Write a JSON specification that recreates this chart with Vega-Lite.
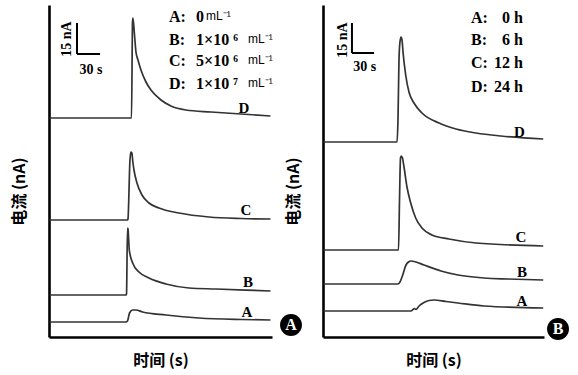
{
  "$schema": "https://vega.github.io/schema/vega-lite/v6.json",
  "padding": {"left": 11, "top": 5, "right": 0, "bottom": 3},
  "bounds": "flush",
  "spacing": 51,
  "background": "white",
  "config": {
    "view": {"stroke": null},
    "axis": {"domainColor": "#000", "domainWidth": 2.6, "ticks": false, "labels": false, "grid": false, "titleFont": "Noto Sans CJK SC", "titleFontSize": 16, "titleFontWeight": "bold", "titleColor": "#000"},
    "axisY": {"titlePadding": 22, "titleY": 186},
    "axisX": {"titlePadding": 15}
  },
  "datasets": {
    "curvesL": [
      {"c": "D", "s": 0.7, "nA": 109.5}, {"c": "D", "s": 107.3, "nA": 109.5}, {"c": "D", "s": 108.6, "nA": 157.5}, {"c": "D", "s": 109.2, "nA": 159.5}, {"c": "D", "s": 111.2, "nA": 151}, {"c": "D", "s": 113.1, "nA": 142.5}, {"c": "D", "s": 115.7, "nA": 138.5}, {"c": "D", "s": 119.6, "nA": 133.5}, {"c": "D", "s": 126.1, "nA": 127.5}, {"c": "D", "s": 132.6, "nA": 123.5}, {"c": "D", "s": 145.6, "nA": 118.5}, {"c": "D", "s": 158.6, "nA": 115.5}, {"c": "D", "s": 178.1, "nA": 113.5}, {"c": "D", "s": 210.7, "nA": 112.5}, {"c": "D", "s": 249.7, "nA": 111.5}, {"c": "D", "s": 288.0, "nA": 110.5},
      {"c": "C", "s": 0.7, "nA": 58.5}, {"c": "C", "s": 102.1, "nA": 58.5}, {"c": "C", "s": 102.7, "nA": 59}, {"c": "C", "s": 105.3, "nA": 88.5}, {"c": "C", "s": 106.4, "nA": 92.5}, {"c": "C", "s": 107.7, "nA": 92}, {"c": "C", "s": 109.2, "nA": 87}, {"c": "C", "s": 110.5, "nA": 83.5}, {"c": "C", "s": 114.4, "nA": 77}, {"c": "C", "s": 120.9, "nA": 71}, {"c": "C", "s": 130, "nA": 67}, {"c": "C", "s": 143, "nA": 64.5}, {"c": "C", "s": 169, "nA": 62}, {"c": "C", "s": 208, "nA": 60}, {"c": "C", "s": 249.7, "nA": 59.25}, {"c": "C", "s": 288.0, "nA": 59},
      {"c": "B", "s": 0.7, "nA": 21}, {"c": "B", "s": 100.1, "nA": 21}, {"c": "B", "s": 100.8, "nA": 21.5}, {"c": "B", "s": 102.1, "nA": 54.5}, {"c": "B", "s": 102.7, "nA": 54}, {"c": "B", "s": 104.4, "nA": 43.5}, {"c": "B", "s": 108.8, "nA": 37}, {"c": "B", "s": 117, "nA": 32.5}, {"c": "B", "s": 130, "nA": 29.5}, {"c": "B", "s": 152.1, "nA": 26.5}, {"c": "B", "s": 182.1, "nA": 24.5}, {"c": "B", "s": 217.2, "nA": 24}, {"c": "B", "s": 288.0, "nA": 23},
      {"c": "A", "s": 0.7, "nA": 7.5}, {"c": "A", "s": 100.1, "nA": 7.5}, {"c": "A", "s": 102.1, "nA": 8}, {"c": "A", "s": 104.7, "nA": 12}, {"c": "A", "s": 108.8, "nA": 13.5}, {"c": "A", "s": 113.1, "nA": 13.5}, {"c": "A", "s": 121.8, "nA": 12.5}, {"c": "A", "s": 152.1, "nA": 11}, {"c": "A", "s": 195.1, "nA": 9.5}, {"c": "A", "s": 249.7, "nA": 8.75}, {"c": "A", "s": 288.0, "nA": 8.5}
    ],
    "curvesR": [
      {"c": "D", "s": 0.7, "nA": 97.5}, {"c": "D", "s": 97.1, "nA": 97.5}, {"c": "D", "s": 98.4, "nA": 108.5}, {"c": "D", "s": 99.7, "nA": 138.5}, {"c": "D", "s": 101.0, "nA": 147.5}, {"c": "D", "s": 102.4, "nA": 150}, {"c": "D", "s": 103.7, "nA": 148.5}, {"c": "D", "s": 105.0, "nA": 142.5}, {"c": "D", "s": 108.5, "nA": 131}, {"c": "D", "s": 112.8, "nA": 122.5}, {"c": "D", "s": 119.4, "nA": 117}, {"c": "D", "s": 129.9, "nA": 112}, {"c": "D", "s": 152.2, "nA": 107}, {"c": "D", "s": 174.5, "nA": 104}, {"c": "D", "s": 200.8, "nA": 102}, {"c": "D", "s": 233.6, "nA": 100.5}, {"c": "D", "s": 289, "nA": 99},
      {"c": "C", "s": 0.7, "nA": 43.5}, {"c": "C", "s": 99.1, "nA": 43.5}, {"c": "C", "s": 100.4, "nA": 68.5}, {"c": "C", "s": 101.7, "nA": 89.5}, {"c": "C", "s": 102.7, "nA": 90.5}, {"c": "C", "s": 104.3, "nA": 89.5}, {"c": "C", "s": 106.3, "nA": 85}, {"c": "C", "s": 110.2, "nA": 75}, {"c": "C", "s": 115.1, "nA": 67}, {"c": "C", "s": 121.6, "nA": 59.5}, {"c": "C", "s": 129.9, "nA": 54.5}, {"c": "C", "s": 143.0, "nA": 51}, {"c": "C", "s": 165.3, "nA": 49}, {"c": "C", "s": 200.8, "nA": 47}, {"c": "C", "s": 289, "nA": 45.5},
      {"c": "B", "s": 0.7, "nA": 26.5}, {"c": "B", "s": 98.4, "nA": 26.5}, {"c": "B", "s": 101.0, "nA": 27.5}, {"c": "B", "s": 104.6, "nA": 31}, {"c": "B", "s": 108.9, "nA": 36}, {"c": "B", "s": 112.2, "nA": 37.5}, {"c": "B", "s": 115.5, "nA": 38}, {"c": "B", "s": 122.0, "nA": 37.5}, {"c": "B", "s": 132.5, "nA": 36}, {"c": "B", "s": 154.8, "nA": 33}, {"c": "B", "s": 177.1, "nA": 31}, {"c": "B", "s": 211.3, "nA": 29.5}, {"c": "B", "s": 242.8, "nA": 29}, {"c": "B", "s": 289, "nA": 28.5},
      {"c": "A", "s": 0.7, "nA": 13}, {"c": "A", "s": 115.5, "nA": 13}, {"c": "A", "s": 118.1, "nA": 13.75}, {"c": "A", "s": 120.1, "nA": 14.25}, {"c": "A", "s": 122.0, "nA": 13.75}, {"c": "A", "s": 126.0, "nA": 15.5}, {"c": "A", "s": 132.5, "nA": 17.25}, {"c": "A", "s": 139.1, "nA": 18.25}, {"c": "A", "s": 145.7, "nA": 18.5}, {"c": "A", "s": 161.4, "nA": 17.75}, {"c": "A", "s": 177.1, "nA": 17}, {"c": "A", "s": 211.3, "nA": 15.5}, {"c": "A", "s": 289, "nA": 14.5}
    ],
    "tagsL": [
      {"c": "D", "s": 253.6, "nA": 114.75}, {"c": "C", "s": 256.2, "nA": 63.5}, {"c": "B", "s": 258.8, "nA": 27.5}, {"c": "A", "s": 257.5, "nA": 12.5}
    ],
    "tagsR": [
      {"c": "D", "s": 257.6, "nA": 102.6}, {"c": "C", "s": 259.8, "nA": 49.8}, {"c": "B", "s": 261.1, "nA": 32.5}, {"c": "A", "s": 261.1, "nA": 18}
    ],
    "legL": [
      {"t": "A:", "s": 156, "nA": 160.2}, {"t": "0", "s": 191.2, "nA": 160.2},
      {"t": "B:", "s": 156, "nA": 148.5}, {"t": "1×10 ⁶", "s": 191.2, "nA": 148.5},
      {"t": "C:", "s": 156, "nA": 138}, {"t": "5×10 ⁶", "s": 191.2, "nA": 138},
      {"t": "D:", "s": 156, "nA": 126.5}, {"t": "1×10 ⁷", "s": 191.2, "nA": 126.5}
    ],
    "unitL": [
      {"t": "mL⁻¹", "s": 204.2, "nA": 160.6}, {"t": "mL⁻¹", "s": 258.8, "nA": 148.9}, {"t": "mL⁻¹", "s": 258.8, "nA": 138.4}, {"t": "mL⁻¹", "s": 258.8, "nA": 126.9}
    ],
    "legR": [
      {"t": "A:", "s": 194.2, "nA": 159.3}, {"t": "B:", "s": 194.2, "nA": 148.5}, {"t": "C:", "s": 194.2, "nA": 136.8}, {"t": "D:", "s": 194.2, "nA": 124.8}
    ],
    "valR": [
      {"t": "0 h", "s": 262.4, "nA": 159.3}, {"t": "6 h", "s": 262.4, "nA": 148.5}, {"t": "12 h", "s": 262.4, "nA": 136.8}, {"t": "24 h", "s": 262.4, "nA": 124.8}
    ],
    "barL": [
      {"s": 36.4, "nA": 141.5, "s2": 36.4, "nA2": 157}, {"s": 36.4, "nA": 141.5, "s2": 66.4, "nA2": 141.5}
    ],
    "barR": [
      {"s": 38, "nA": 142, "s2": 38, "nA2": 157}, {"s": 38, "nA": 142, "s2": 67, "nA2": 142}
    ],
    "vtxtL": [{"t": "15 nA", "s": 23.4, "nA": 149}],
    "htxtL": [{"t": "30 s", "s": 54.6, "nA": 133.5}],
    "vtxtR": [{"t": "15 nA", "s": 25.6, "nA": 148.5}],
    "htxtR": [{"t": "30 s", "s": 54.7, "nA": 135}],
    "badgeL": [{"t": "A", "s": 314.7, "nA": 6}],
    "badgeR": [{"t": "B", "s": 308.4, "nA": 4}]
  },
  "hconcat": [
    {
      "width": 223,
      "height": 332,
      "encoding": {
        "x": {"field": "s", "type": "quantitative", "scale": {"domain": [0, 290], "nice": false, "zero": false}, "axis": {"title": "时间 (s)"}},
        "y": {"field": "nA", "type": "quantitative", "scale": {"domain": [0, 166], "nice": false}, "axis": {"title": "电流 (nA)"}}
      },
      "layer": [
        {"data": {"name": "curvesL"}, "mark": {"type": "line", "color": "#333333", "strokeWidth": 1.7, "interpolate": "monotone"}, "encoding": {"detail": {"field": "c"}}},
        {"data": {"name": "tagsL"}, "mark": {"type": "text", "font": "Liberation Serif", "fontWeight": "bold", "fontSize": 15, "align": "center", "baseline": "middle", "color": "#000"}, "encoding": {"text": {"field": "c"}}},
        {"data": {"name": "legL"}, "mark": {"type": "text", "font": "Liberation Serif", "fontWeight": "bold", "fontSize": 16, "align": "left", "baseline": "middle", "color": "#000"}, "encoding": {"text": {"field": "t"}}},
        {"data": {"name": "unitL"}, "mark": {"type": "text", "font": "Liberation Sans", "fontSize": 12, "align": "left", "baseline": "middle", "color": "#000"}, "encoding": {"text": {"field": "t"}}},
        {"data": {"name": "barL"}, "mark": {"type": "rule", "strokeWidth": 2, "color": "#000"}, "encoding": {"x2": {"field": "s2"}, "y2": {"field": "nA2"}}},
        {"data": {"name": "vtxtL"}, "mark": {"type": "text", "font": "Liberation Serif", "fontWeight": "bold", "fontSize": 14, "angle": 270, "align": "center", "baseline": "middle", "color": "#000"}, "encoding": {"text": {"field": "t"}}},
        {"data": {"name": "htxtL"}, "mark": {"type": "text", "font": "Liberation Serif", "fontWeight": "bold", "fontSize": 14, "align": "center", "baseline": "middle", "color": "#000"}, "encoding": {"text": {"field": "t"}}},
        {"data": {"name": "badgeL"}, "mark": {"type": "point", "shape": "circle", "filled": true, "size": 480, "color": "#000", "opacity": 1}},
        {"data": {"name": "badgeL"}, "mark": {"type": "text", "font": "Liberation Serif", "fontWeight": "bold", "fontSize": 16, "align": "center", "baseline": "middle", "color": "#fff"}, "encoding": {"text": {"field": "t"}}}
      ]
    },
    {
      "width": 221,
      "height": 332,
      "encoding": {
        "x": {"field": "s", "type": "quantitative", "scale": {"domain": [0, 290], "nice": false, "zero": false}, "axis": {"title": "时间 (s)"}},
        "y": {"field": "nA", "type": "quantitative", "scale": {"domain": [0, 166], "nice": false}, "axis": {"title": "电流 (nA)"}}
      },
      "layer": [
        {"data": {"name": "curvesR"}, "mark": {"type": "line", "color": "#333333", "strokeWidth": 1.7, "interpolate": "monotone"}, "encoding": {"detail": {"field": "c"}}},
        {"data": {"name": "tagsR"}, "mark": {"type": "text", "font": "Liberation Serif", "fontWeight": "bold", "fontSize": 15, "align": "center", "baseline": "middle", "color": "#000"}, "encoding": {"text": {"field": "c"}}},
        {"data": {"name": "legR"}, "mark": {"type": "text", "font": "Liberation Serif", "fontWeight": "bold", "fontSize": 16, "align": "left", "baseline": "middle", "color": "#000"}, "encoding": {"text": {"field": "t"}}},
        {"data": {"name": "valR"}, "mark": {"type": "text", "font": "Liberation Serif", "fontWeight": "bold", "fontSize": 16, "align": "right", "baseline": "middle", "color": "#000"}, "encoding": {"text": {"field": "t"}}},
        {"data": {"name": "barR"}, "mark": {"type": "rule", "strokeWidth": 2, "color": "#000"}, "encoding": {"x2": {"field": "s2"}, "y2": {"field": "nA2"}}},
        {"data": {"name": "vtxtR"}, "mark": {"type": "text", "font": "Liberation Serif", "fontWeight": "bold", "fontSize": 14, "angle": 270, "align": "center", "baseline": "middle", "color": "#000"}, "encoding": {"text": {"field": "t"}}},
        {"data": {"name": "htxtR"}, "mark": {"type": "text", "font": "Liberation Serif", "fontWeight": "bold", "fontSize": 14, "align": "center", "baseline": "middle", "color": "#000"}, "encoding": {"text": {"field": "t"}}},
        {"data": {"name": "badgeR"}, "mark": {"type": "point", "shape": "circle", "filled": true, "size": 480, "color": "#000", "opacity": 1}},
        {"data": {"name": "badgeR"}, "mark": {"type": "text", "font": "Liberation Serif", "fontWeight": "bold", "fontSize": 16, "align": "center", "baseline": "middle", "color": "#fff"}, "encoding": {"text": {"field": "t"}}}
      ]
    }
  ]
}
